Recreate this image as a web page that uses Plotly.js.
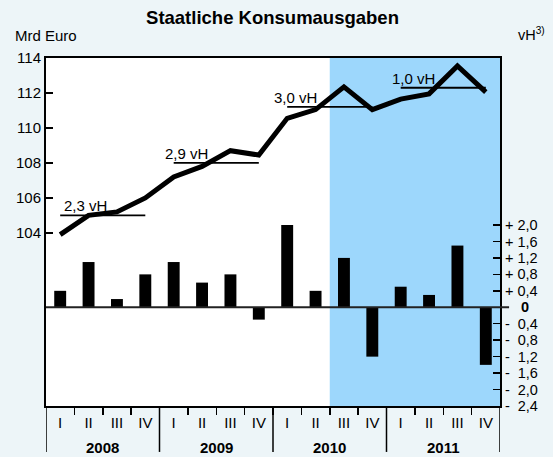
<!DOCTYPE html>
<html><head><meta charset="utf-8">
<script src="https://cdn.plot.ly/plotly-3.0.1.min.js"></script>
<style>html,body{margin:0;padding:0;background:#edf5f8}</style>
</head><body><div id="chart" style="width:553px;height:457px"></div>
<script>
// ---- data ----
const years = ['2008','2009','2010','2011'];
const quarters = ['I','II','III','IV'];
const consumption = [103.9,105.0,105.2,106.0, 107.2,107.8,108.7,108.45, 110.55,111.05,112.35,111.05, 111.65,111.95,113.55,112.05];
const changeVH = [0.4,1.1,0.2,0.8, 1.1,0.6,0.8,-0.3, 2.0,0.4,1.2,-1.2, 0.5,0.3,1.5,-1.4];
const annualAvg = [105.0,108.0,111.2,112.3];
const annualRate = ['2,3 vH','2,9 vH','3,0 vH','1,0 vH'];
const leftTickVals = [104,106,108,110,112,114];
const rightTickVals = [2.0,1.6,1.2,0.8,0.4,0,-0.4,-0.8,-1.2,-1.6,-2.0,-2.4];
const rightTickText = ['+\u00a02,0','+\u00a01,6','+\u00a01,2','+\u00a00,8','+\u00a00,4','\u00a0\u00a0\u00a0\u00a0<b>0</b>',
  '-\u00a0\u00a00,4','-\u00a0\u00a00,8','-\u00a0\u00a01,2','-\u00a0\u00a01,6','-\u00a0\u00a02,0','-\u00a0\u00a02,4'];

// ---- layout constants ----
const FONT = '"Liberation Sans", Arial, sans-serif';
const labelShift = [2,-11,-15,-11];
const shadeFromYear = 2; // shading starts at 2010 Q3

const idx = consumption.map((_, i) => i);
const qLabels = idx.map(i => quarters[i % 4]);
const boundaries = idx.slice(1).map(i => i - 0.5);

const avgX = [], avgY = [];
years.forEach((y, k) => { avgX.push(4*k, 4*k+3, null); avgY.push(annualAvg[k], annualAvg[k], null); });

const traces = [
  {type:'bar', x: idx, y: changeVH, yaxis:'y2', marker:{color:'#000'}, width:0.42, hoverinfo:'skip'},
  {type:'scatter', mode:'lines', x: avgX, y: avgY, line:{color:'#000', width:1.8}, hoverinfo:'skip'},
  {type:'scatter', mode:'lines', x: idx, y: consumption, line:{color:'#000', width:5}, hoverinfo:'skip'},
  {type:'scatter', mode:'markers', x:[0], y:[0], xaxis:'x2', yaxis:'y', marker:{opacity:0}, hoverinfo:'skip'}
];

const yearSep = [-0.5, 3.5, 7.5, 11.5, 15.5];
const shapes = [
  {type:'rect', xref:'x', yref:'paper', x0: 4*shadeFromYear + 1.5, x1: idx.length - 0.5, y0:0, y1:1,
   fillcolor:'#9dd7fc', line:{width:0}, layer:'below'},
  {type:'line', xref:'paper', yref:'y2', x0:0, x1:1.02, y0:0, y1:0, line:{color:'#222', width:2}}
];
yearSep.forEach(x => shapes.push({type:'line', xref:'x', yref:'paper', x0:x, x1:x, y0:0, y1:-0.132, line:{color:'#000', width:1.5}}));

const annotations = [];
years.forEach((y, k) => {
  annotations.push({xref:'x', yref:'paper', x: 4*k + 1.5, y: -0.12, text:'<b>'+y+'</b>', showarrow:false,
    xanchor:'center', yanchor:'middle', font:{family:FONT, size:15, color:'#000'}});
  annotations.push({xref:'x', yref:'y', x: 4*k, y: annualAvg[k], xshift: labelShift[k], text: annualRate[k], showarrow:false,
    xanchor:'left', yanchor:'bottom', yshift:-1, font:{family:FONT, size:15, color:'#000'}});
});
annotations.push({xref:'paper', yref:'paper', x:-0.073, y:1.066, xanchor:'left', yanchor:'middle', text:'Mrd Euro', showarrow:false,
  font:{family:FONT, size:15, color:'#000'}});
annotations.push({xref:'paper', yref:'paper', x:1.035, y:1.068, xanchor:'left', yanchor:'middle', text:'vH<sup>3)</sup>', showarrow:false,
  font:{family:FONT, size:14.5, color:'#000'}});

const layout = {
  width:553, height:457,
  margin:{l:46, r:53, t:58, b:51},
  paper_bgcolor:'#edf5f8', plot_bgcolor:'#ffffff',
  showlegend:false,
  title:{text:'<b>Staatliche Konsumausgaben</b>', x:272.5/553, xanchor:'center', y:1-18/457, yanchor:'middle',
    font:{family:FONT, size:18.5, color:'#000'}},
  xaxis:{range:[-0.5, idx.length-0.5], tickvals: boundaries, ticks:'outside', ticklen:7, tickwidth:1.5, tickcolor:'#000',
    showticklabels:false, showline:true, linecolor:'#000', linewidth:2, mirror:true, showgrid:false, zeroline:false, fixedrange:true},
  xaxis2:{overlaying:'x', anchor:'y', side:'bottom', range:[-0.5, idx.length-0.5], tickvals: idx, ticktext: qLabels, ticks:'',
    showline:false, showgrid:false, zeroline:false, ticklabelstandoff:6, tickfont:{family:FONT, size:15, color:'#000'}},
  yaxis:{range:[94.1, 114], tickvals: leftTickVals, ticks:'inside', ticklen:7, tickwidth:1.5, tickcolor:'#000',
    showline:true, linecolor:'#000', linewidth:2, showgrid:false, zeroline:false, tickfont:{family:FONT, size:15, color:'#000'}},
  yaxis2:{overlaying:'y', side:'right', range:[-2.4, 6.06], tickvals: rightTickVals, ticktext: rightTickText, ticks:'inside',
    ticklen:7, tickwidth:1.5, tickcolor:'#000', showline:true, linecolor:'#000', linewidth:2, showgrid:false, zeroline:false,
    tickfont:{family:FONT, size:14.5, color:'#000'}},
  shapes, annotations
};
Plotly.newPlot('chart', traces, layout, {staticPlot:true, displayModeBar:false});
</script></body></html>
